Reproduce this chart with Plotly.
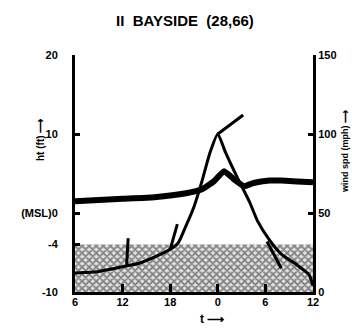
import plotly.graph_objects as go

# ---- data ----
title_text = "II  BAYSIDE  (28,66)"
x_tickvals = [-18, -12, -6, 0, 6, 12]
x_ticktext = ["6", "12", "18", "0", "6", "12"]
y_tickvals = [20, 10, 0, -4, -10]
y_ticktext = ["20", "10", "(MSL)0", "-4", "-10"]
y2_tickvals = [150, 100, 50, 0]
y2_ticktext = ["150", "100", "50", "0"]

# surge height (ft, left axis)
surge_t = [-18, -12, -8, -4, -2, -0.5, 0.8, 2, 3.3, 4.5, 6.5, 8, 10, 12]
surge_h = [1.5, 1.8, 2.0, 2.5, 3.0, 4.0, 5.3, 4.3, 3.4, 3.8, 4.1, 4.1, 4.0, 3.9]

# wind speed (mph, right axis)
wind_t = [-18, -15, -12, -10, -8, -6, -5, -4, -3, -2, -1, 0, 1, 2.5, 4, 5, 6.5, 8, 10, 11.5, 12]
wind_v = [12, 13, 16, 18, 22, 27, 31, 42, 54, 70, 88, 100, 88, 72, 57, 45, 33, 24, 17, 11, 4]

# wind direction stubs (start t, start mph, end t, end mph)
stub_t0 = [-11.5, -6.0, 0.0, 6.2]
stub_v0 = [16, 27, 100, 32]
stub_t1 = [-11.3, -5.1, 3.2, 8.0]
stub_v1 = [34, 43, 112, 15]

# shaded band (ft)
band_low = -10
band_high = -4

fnt = "Liberation Sans"

fig = go.Figure()

fig.add_trace(go.Scatter(x=[x_tickvals[0], x_tickvals[-1]], y=[band_low, band_low],
                         mode="lines", line=dict(width=0), showlegend=False, hoverinfo="skip"))
fig.add_trace(go.Scatter(x=[x_tickvals[0], x_tickvals[-1]], y=[band_high, band_high],
                         mode="lines", line=dict(width=0), fill="tonexty",
                         fillcolor="rgba(0,0,0,0)",
                         fillpattern=dict(shape="x", size=5, solidity=0.6,
                                          fgcolor="#222222", bgcolor="#e4e4e4"),
                         showlegend=False, hoverinfo="skip"))

fig.add_trace(go.Scatter(x=surge_t, y=surge_h, mode="lines",
                         line=dict(color="black", width=6, shape="spline", smoothing=0.4),
                         showlegend=False))

fig.add_trace(go.Scatter(x=wind_t, y=wind_v, yaxis="y2", mode="lines",
                         line=dict(color="black", width=3, shape="spline", smoothing=0.5),
                         showlegend=False))

for a, b, c, d in zip(stub_t0, stub_v0, stub_t1, stub_v1):
    fig.add_trace(go.Scatter(x=[a, c], y=[b, d], yaxis="y2", mode="lines",
                             line=dict(color="black", width=3), showlegend=False))

tickfont = dict(family=fnt, size=11, color="black", weight="bold")

fig.update_layout(
    width=352, height=334,
    margin=dict(l=75, r=39, t=55, b=42),
    paper_bgcolor="white", plot_bgcolor="white",
    showlegend=False,
    xaxis=dict(range=[-18, 12], tickvals=x_tickvals, ticktext=x_ticktext,
               showline=True, linewidth=3, linecolor="black",
               ticks="inside", ticklen=8, tickwidth=3, tickcolor="black",
               ticklabelstandoff=-2,
               showgrid=False, zeroline=False, tickfont=tickfont),
    yaxis=dict(range=[-10, 20], tickvals=y_tickvals, ticktext=y_ticktext,
               showline=True, linewidth=3, linecolor="black",
               ticks="inside", ticklen=5, tickwidth=3, tickcolor="black",
               ticklabelstandoff=12,
               showgrid=False, zeroline=False, tickfont=tickfont),
    yaxis2=dict(range=[0, 150], tickvals=y2_tickvals, ticktext=y2_ticktext,
                overlaying="y", side="right",
                showline=True, linewidth=3, linecolor="black",
                ticks="inside", ticklen=5, tickwidth=3, tickcolor="black",
                ticklabelstandoff=0,
                showgrid=False, zeroline=False, tickfont=tickfont),
    annotations=[
        dict(text=title_text, x=185, y=334 - 21, xanchor="center",
             font=dict(family=fnt, size=15, color="black", weight="bold")),
        dict(text="t ⟶", x=212, y=334 - 319, xanchor="center",
             font=dict(family=fnt, size=12, color="black", weight="bold")),
        dict(text="ht (ft) ⟶", x=40, y=334 - 140, textangle=-90, xanchor="center",
             font=dict(family=fnt, size=10, color="black", weight="bold")),
        dict(text="wind spd (mph) ⟶", x=352, y=334 - 152, textangle=-90, xanchor="right",
             font=dict(family=fnt, size=9, color="black", weight="bold")),
    ],
)

# convert annotation pixel placements to paper coordinates
pw = 352 - 75 - 39
ph = 334 - 55 - 42
new_ann = []
for a in fig.layout.annotations:
    a = a.to_plotly_json()
    a["xref"] = "paper"
    a["yref"] = "paper"
    a["showarrow"] = False
    a["yanchor"] = "middle"
    a["x"] = (a["x"] - 75) / pw
    a["y"] = (a["y"] - 42) / ph
    new_ann.append(a)
fig.layout.annotations = new_ann

fig.write_html("out.html", config={"displayModeBar": False},
               post_script="document.body.style.margin='0';document.body.style.overflow='hidden';")
